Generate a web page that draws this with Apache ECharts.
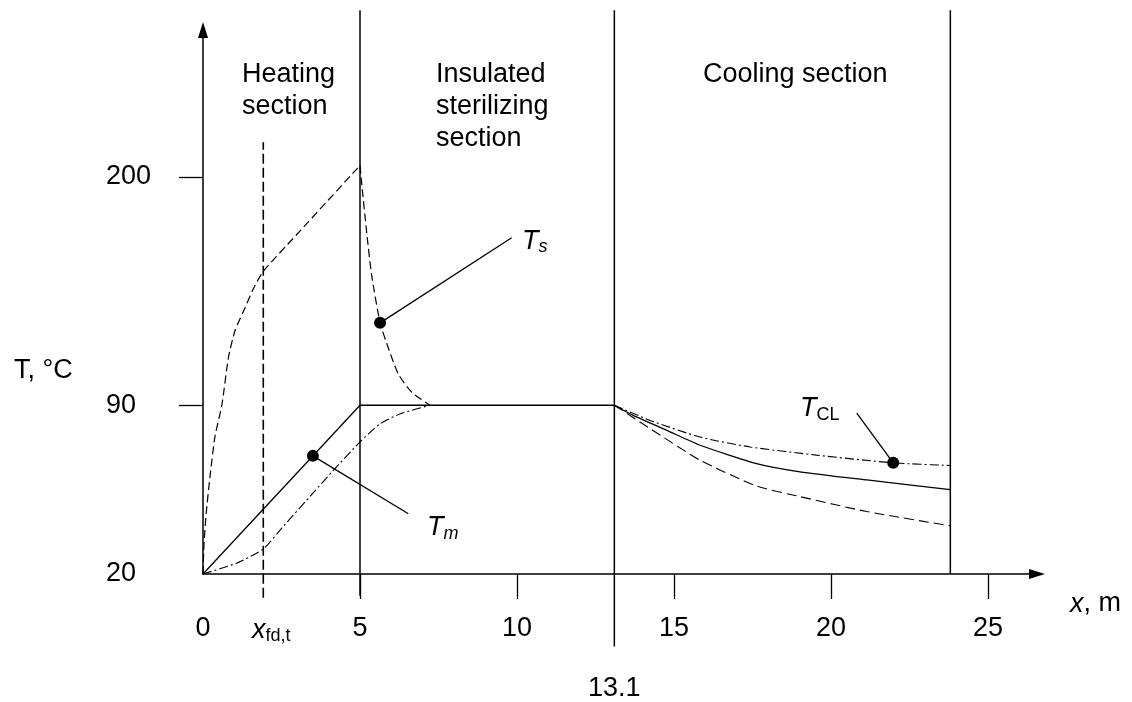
<!DOCTYPE html>
<html><head><meta charset="utf-8">
<script src="https://cdn.jsdelivr.net/npm/echarts@6/dist/echarts.min.js"></script>
<style>html,body{margin:0;padding:0;background:#fff}#c{width:1132px;height:702px}</style>
</head><body><div id="c"></div>
<script>
// ---------- data (x in m, T in °C) ----------
const xTickValues  = [5, 10, 15, 20, 25];
const xLabelValues = [0, 1.92, 5, 10, 15, 20, 25];
const yLabelTemps  = [20, 90, 200];
const sectionBounds = [5, 13.1, 23.8];
const xfdValue = 1.92;

const tsHeatX = [0, 0.03, 0.1, 0.22, 0.38, 0.6, 0.81, 1.02, 1.34, 1.6, 1.92, 3.0, 5.0];
const tsHeatT = [20, 32, 45, 60, 77, 90, 113, 126, 137, 146, 154.5, 172.5, 205.5];
const tsHoldX = [5.0, 5.05, 5.21, 5.37, 5.64, 5.9, 6.22, 6.65, 7.23];
const tsHoldT = [205.5, 197.5, 173.6, 152.8, 129.7, 117.7, 105, 96.2, 90];
const tmX = [0, 5, 13.1];
const tmT = [20, 90, 90];
const tmCoolX = [13.1, 13.7, 14.77, 15.83, 17.63, 19.01, 21.14, 23.8];
const tmCoolT = [90, 85.8, 79.6, 73.4, 65.8, 62.4, 59, 55];
const tcHeatX = [0, 1.07, 1.92, 2.56, 3.5, 4.15, 5.0, 5.64, 6.27, 7.23];
const tcHeatT = [20, 24.5, 30.4, 39.8, 53.5, 63, 74.8, 82.3, 86.4, 90];
const tclCoolX = [13.1, 14.24, 15.83, 17.42, 19.54, 21.98, 23.8];
const tclCoolT = [90, 83.7, 76.8, 72.7, 69.3, 66.1, 65];
const twCoolX = [13.1, 14.24, 15.83, 17.63, 19.01, 21.14, 23.8];
const twCoolT = [90, 80.3, 67.2, 56.5, 52.1, 45.9, 40];
const markerX = [5.64, 3.5, 21.98];
const markerT = [129.7, 69, 66.1];
const calloutEndX = [9.83, 6.54, 20.82];
const calloutEndT = [170.7, 45, 86.7];
const calloutLabelX = [10.16, 7.13, 19.01];
const calloutLabelT = [169.1, 39.1, 88.5];
const calloutTexts = ['{t|T}{si|s}', '{t|T}{si|m}', '{t|T}{sr|CL}'];
const sectionTitles = ['Heating\nsection', 'Insulated\nsterilizing\nsection', 'Cooling section'];
const sectionTitleX = [1.24, 7.42, 15.92];

// ---------- schematic (non-linear) temperature scale ----------
function toAxis(T) { return T <= 90 ? (T - 20) * 170 / 70 : 170 + (T - 90) * 230 / 110; }
function pts(xs, ts) { return xs.map((x, i) => [x, toAxis(ts[i])]); }

// ---------- layout / style ----------
const FONT = 'Liberation Sans, Arial, sans-serif';
const FS = 27;
const ARROW = 'path://M5,0 L10,16 L0,16 Z';
const BLACK = '#000';
const TITLE_TOP = 519.3;           // axis units
const lineExt = {5: [-22, 568], 13.1: [-73, 568], 23.8: [0, 568]};
const xfdExt = [-24, 435];

const subRich = {
  t:  {fontFamily: FONT, fontSize: FS, fontStyle: 'italic', lineHeight: 30, color: BLACK},
  si: {fontFamily: FONT, fontSize: 18, fontStyle: 'italic', lineHeight: 8, verticalAlign: 'bottom', color: BLACK},
  sr: {fontFamily: FONT, fontSize: 18, lineHeight: 8, verticalAlign: 'bottom', color: BLACK},
  r:  {fontFamily: FONT, fontSize: FS, lineHeight: 30, color: BLACK},
  i:  {fontFamily: FONT, fontSize: FS, fontStyle: 'italic', lineHeight: 30, color: BLACK, padding: [0, 0, 0, 16]},
  sub:{fontFamily: FONT, fontSize: 18, lineHeight: 8, verticalAlign: 'bottom', color: BLACK}
};

function curve(data, dash, width, smooth) {
  return {type: 'line', data, symbol: 'none', silent: true, smooth: smooth || false, clip: false,
    lineStyle: {color: BLACK, width: width || 1.2, type: dash || 'solid', opacity: 1}};
}

const series = [];
series.push(curve(pts(tsHeatX, tsHeatT), [8, 4], 1.2, 0.2));
series.push(curve(pts(tsHoldX, tsHoldT), [8, 4], 1.2, 0.2));
series.push(curve(pts(tmX, tmT), 'solid', 1.3));
series.push(curve(pts(tmCoolX, tmCoolT), 'solid', 1.3, 0.2));
series.push(curve(pts(tcHeatX, tcHeatT), [9, 3, 2, 3], 1.1, 0.2));
series.push(curve(pts(tclCoolX, tclCoolT), [9, 3, 2, 3], 1.1, 0.2));
series.push(curve(pts(twCoolX, twCoolT), [10, 5], 1.1, 0.2));
sectionBounds.forEach(b => {
  series.push(curve([[b, lineExt[b][0]], [b, lineExt[b][1]]], 'solid', 1.5));
});
series.push(curve([[xfdValue, xfdExt[0]], [xfdValue, xfdExt[1]]], [10, 4], 1.6));
markerX.forEach((x, i) => {
  series.push(curve([[x, toAxis(markerT[i])], [calloutEndX[i], toAxis(calloutEndT[i])]], 'solid', 1.3));
});
series.push({type: 'scatter', silent: true, symbol: 'circle', symbolSize: 12, z: 5,
  itemStyle: {color: BLACK, opacity: 1}, data: pts(markerX, markerT)});
series.push({type: 'scatter', silent: true, symbolSize: 0, z: 5, itemStyle: {opacity: 1},
  data: calloutLabelX.map((x, i) => ({value: [x, toAxis(calloutLabelT[i])],
    label: {show: true, position: [0, 0], align: 'left', verticalAlign: 'middle', opacity: 1,
      formatter: calloutTexts[i], rich: subRich}}))});
series.push({type: 'scatter', silent: true, symbolSize: 0, z: 5, itemStyle: {opacity: 1},
  data: sectionTitleX.map((x, i) => ({value: [x, TITLE_TOP],
    label: {show: true, position: [0, 0], align: 'left', verticalAlign: 'top', opacity: 1,
      formatter: sectionTitles[i], fontFamily: FONT, fontSize: FS, lineHeight: 32, color: BLACK}}))});

const yTickVals = yLabelTemps.map(toAxis);

const chart = echarts.init(document.getElementById('c'), null, {renderer: 'canvas'});
chart.setOption({
  animation: false,
  backgroundColor: '#fff',
  grid: {left: 203, right: 95, top: 30, bottom: 124, containLabel: false},
  xAxis: [{
    type: 'value', min: 0, max: 26.56, position: 'bottom',
    axisLine: {show: true, onZero: false, symbol: ['none', ARROW], symbolSize: [14, 16],
      lineStyle: {color: BLACK, width: 1.5}},
    axisTick: {show: true, customValues: xTickValues, length: 25, lineStyle: {color: BLACK, width: 1.3}},
    axisLabel: {show: true, customValues: xLabelValues, margin: 41, color: BLACK,
      fontFamily: FONT, fontSize: FS,
      formatter: v => Math.abs(v - xfdValue) < 1e-6 ? '{i|x}{sub|fd,t}' : String(v),
      rich: subRich},
    splitLine: {show: false},
    name: '{t|x}{r|, m}', nameLocation: 'end', nameGap: 33,
    nameTextStyle: {align: 'left', verticalAlign: 'top', padding: [15, 0, 0, 0], rich: subRich}
  }, {
    type: 'value', min: 0, max: 26.56, position: 'bottom', gridIndex: 0,
    axisLine: {show: false}, axisTick: {show: false}, splitLine: {show: false},
    axisLabel: {show: true, customValues: [13.1], margin: 101, color: BLACK,
      fontFamily: FONT, fontSize: FS, formatter: v => String(v)}
  }],
  yAxis: {
    type: 'value', min: 0, max: 548,
    axisLine: {show: true, onZero: false, symbol: ['none', ARROW], symbolSize: [16, 16],
      lineStyle: {color: BLACK, width: 1.5}},
    axisTick: {show: true, customValues: yTickVals.slice(1), length: 24, lineStyle: {color: BLACK, width: 1.3}},
    axisLabel: {show: true, customValues: yTickVals, align: 'left', margin: 97, color: BLACK,
      fontFamily: FONT, fontSize: FS, padding: [12, 0, 0, 0],
      formatter: v => { const k = yTickVals.findIndex(t => Math.abs(t - v) < 1e-6); return k >= 0 ? String(yLabelTemps[k]) : ''; }},
    splitLine: {show: false}
  },
  graphic: [{type: 'text', x: 14, y: 371, silent: true,
    style: {text: 'T, °C', fontFamily: FONT, fontSize: FS, fill: BLACK, verticalAlign: 'middle'}}],
  series: series
});
</script>
</body></html>
